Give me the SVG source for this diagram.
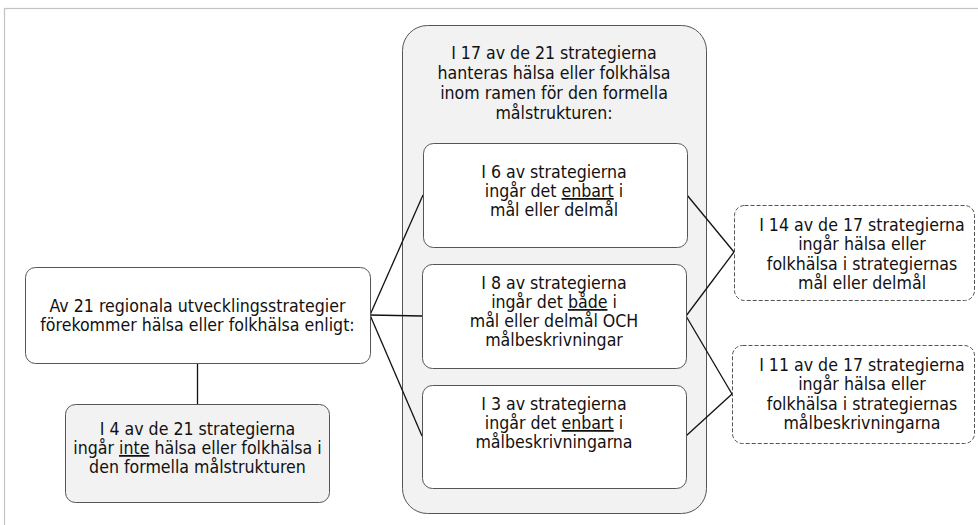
<svg xmlns="http://www.w3.org/2000/svg" width="978" height="525" viewBox="0 0 978 525">
<style>
text{font-family:"DejaVu Sans Condensed","DejaVu Sans",sans-serif;font-size:17.6px;fill:#111;text-anchor:middle}
.box{fill:#fff;stroke:#555;stroke-width:1}
.grey{fill:#f2f2f2;stroke:#555;stroke-width:1}
.dash{fill:#fff;stroke:#555;stroke-width:1;stroke-dasharray:4 2}
.u{text-decoration:underline}
#connectors line{stroke:#111;stroke-width:1.3}
</style>
<rect x="4.5" y="8.5" width="1000" height="1000" fill="#fff" stroke="#c3c3c3" stroke-width="1.2"/>
<g id="container">
<rect class="grey" x="402.5" y="25.5" width="304" height="488" rx="25"/>
<text x="554" y="59">I 17 av de 21 strategierna</text>
<text x="554" y="79">hanteras hälsa eller folkhälsa</text>
<text x="554" y="99">inom ramen för den formella</text>
<text x="554" y="119">målstrukturen:</text>
</g>
<g id="connectors">
<line x1="197.5" y1="363" x2="197.5" y2="404"/>
<line x1="370" y1="315" x2="423" y2="195"/>
<line x1="370" y1="315" x2="422" y2="316"/>
<line x1="370" y1="315" x2="422" y2="436"/>
<line x1="687" y1="195" x2="734" y2="252"/>
<line x1="686" y1="316" x2="734" y2="252"/>
<line x1="686" y1="316" x2="732" y2="394"/>
<line x1="686" y1="436" x2="732" y2="394"/>
</g>
<g id="main">
<rect class="box" x="25.5" y="267.5" width="345" height="96" rx="10"/>
<text x="197.5" y="312">Av 21 regionala utvecklingsstrategier</text>
<text x="197.5" y="331">förekommer hälsa eller folkhälsa enligt:</text>
</g>
<g id="none">
<rect class="grey" x="65.5" y="404.5" width="264" height="98" rx="10"/>
<text x="197.5" y="435">I 4 av de 21 strategierna</text>
<text x="197.5" y="454">ingår <tspan class="u">inte</tspan> hälsa eller folkhälsa i</text>
<text x="197.5" y="473">den formella målstrukturen</text>
</g>
<g id="b6">
<rect class="box" x="423.5" y="143.5" width="264" height="104" rx="10"/>
<text x="554" y="178">I 6 av strategierna</text>
<text x="554" y="197">ingår det <tspan class="u">enbart</tspan> i</text>
<text x="554" y="216">mål eller delmål</text>
</g>
<g id="b8">
<rect class="box" x="422.5" y="264.5" width="264" height="104" rx="10"/>
<text x="554" y="289">I 8 av strategierna</text>
<text x="554" y="308">ingår det <tspan class="u">både</tspan> i</text>
<text x="554" y="327">mål eller delmål OCH</text>
<text x="554" y="346">målbeskrivningar</text>
</g>
<g id="b3">
<rect class="box" x="422.5" y="385.5" width="264" height="103" rx="10"/>
<text x="554" y="410">I 3 av strategierna</text>
<text x="554" y="429">ingår det <tspan class="u">enbart</tspan> i</text>
<text x="554" y="448">målbeskrivningarna</text>
</g>
<g id="b14">
<rect class="dash" x="734.5" y="205.5" width="240" height="95" rx="10"/>
<text x="862" y="231">I 14 av de 17 strategierna</text>
<text x="862" y="250">ingår hälsa eller</text>
<text x="862" y="270">folkhälsa i strategiernas</text>
<text x="862" y="289">mål eller delmål</text>
</g>
<g id="b11">
<rect class="dash" x="732.5" y="345.5" width="242" height="98" rx="10"/>
<text x="862" y="371">I 11 av de 17 strategierna</text>
<text x="862" y="390">ingår hälsa eller</text>
<text x="862" y="410">folkhälsa i strategiernas</text>
<text x="862" y="429">målbeskrivningarna</text>
</g>
</svg>
